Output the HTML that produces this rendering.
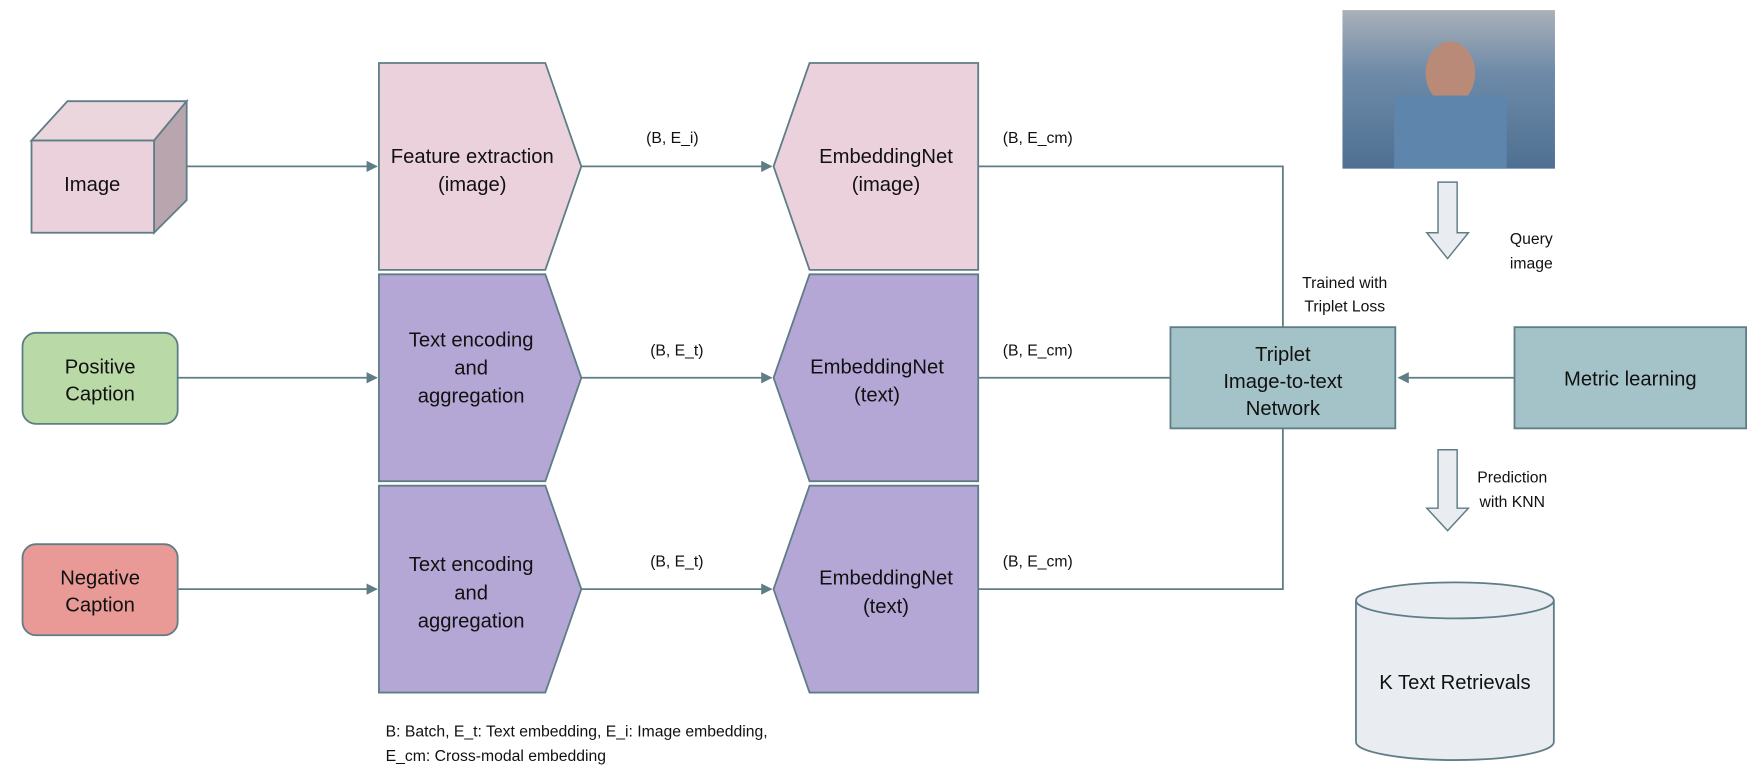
<!DOCTYPE html>
<html><head><meta charset="utf-8"><style>
html,body{margin:0;padding:0;background:#fff;width:1763px;height:766px;overflow:hidden}
svg{display:block}
text{font-family:"Liberation Sans",sans-serif;fill:#111}
</style></head><body>
<svg width="1763" height="766" viewBox="0 0 1568 681.3" xmlns="http://www.w3.org/2000/svg">
<defs>
<marker id="ah" markerWidth="10" markerHeight="10" refX="9" refY="5" orient="auto" markerUnits="userSpaceOnUse">
<path d="M0,0 L10,5 L0,10 z" fill="#5f7d86"/></marker>
<linearGradient id="ph" x1="0" y1="0" x2="0" y2="1">
<stop offset="0" stop-color="#a9b0b8"/><stop offset="0.4" stop-color="#6d8aa8"/><stop offset="1" stop-color="#4f7092"/></linearGradient>
</defs>
<g stroke="#5f7d86" stroke-width="1.6" fill="none">
<path d="M28,125 L60,90 L166,90 L137,125 z" fill="#ecd6de"/>
<path d="M137,125 L166,90 L166,178 L137,207 z" fill="#b9a5ad"/>
<rect x="28" y="125" width="109" height="82" fill="#ead1dc"/>
<rect x="20" y="296" width="138" height="81" rx="12" fill="#b9d9a7"/>
<rect x="20" y="484" width="138" height="81" rx="12" fill="#e99a97"/>
<path d="M337,56 L485,56 L517,148 L485,240 L337,240 z" fill="#ead1dc"/>
<path d="M337,244 L485,244 L517,336 L485,428 L337,428 z" fill="#b4a7d6"/>
<path d="M337,432 L485,432 L517,524 L485,616 L337,616 z" fill="#b4a7d6"/>
<path d="M720,56 L870,56 L870,240 L720,240 L688,148 z" fill="#ead1dc"/>
<path d="M720,244 L870,244 L870,428 L720,428 L688,336 z" fill="#b4a7d6"/>
<path d="M720,432 L870,432 L870,616 L720,616 L688,524 z" fill="#b4a7d6"/>
<line x1="166" y1="148" x2="335" y2="148" marker-end="url(#ah)"/>
<line x1="158" y1="336" x2="335" y2="336" marker-end="url(#ah)"/>
<line x1="158" y1="524" x2="335" y2="524" marker-end="url(#ah)"/>
<line x1="517" y1="148" x2="686" y2="148" marker-end="url(#ah)"/>
<line x1="517" y1="336" x2="686" y2="336" marker-end="url(#ah)"/>
<line x1="517" y1="524" x2="686" y2="524" marker-end="url(#ah)"/>
<polyline points="870,148 1141,148 1141,291"/>
<line x1="870" y1="336" x2="1041" y2="336"/>
<polyline points="870,524 1141,524 1141,381"/>
<line x1="1347" y1="336" x2="1244" y2="336" marker-end="url(#ah)"/>
<rect x="1041" y="291" width="200" height="90" fill="#a3c3c8"/>
<rect x="1347" y="291" width="206" height="90" fill="#a3c3c8"/>
<path d="M1279,162 L1296,162 L1296,207 L1306,207 L1287.5,230 L1269,207 L1279,207 z" fill="#e9edf1" stroke-width="1.3"/>
<path d="M1279,400 L1296,400 L1296,452 L1306,452 L1287.5,472 L1269,452 L1279,452 z" fill="#e9edf1" stroke-width="1.3"/>
<path d="M1206,534 L1206,660 A88,16 0 0 0 1382,660 L1382,534" fill="#e9edf1"/>
<ellipse cx="1294" cy="534" rx="88" ry="16" fill="#e9edf1"/>
</g>
<rect x="1194" y="9" width="189" height="141" fill="url(#ph)"/>
<ellipse cx="1290" cy="65" rx="22" ry="28" fill="#b98a78"/>
<rect x="1240" y="85" width="100" height="65" fill="#5e86ad"/>
<g font-size="18" text-anchor="middle">
<text x="82" y="170">Image</text>
<text x="89" y="332">Positive</text><text x="89" y="356">Caption</text>
<text x="89" y="520">Negative</text><text x="89" y="544">Caption</text>
<text x="420" y="145">Feature extraction</text><text x="420" y="170">(image)</text>
<text x="419" y="308">Text encoding</text><text x="419" y="333">and</text><text x="419" y="358">aggregation</text>
<text x="419" y="508">Text encoding</text><text x="419" y="533">and</text><text x="419" y="558">aggregation</text>
<text x="788" y="145">EmbeddingNet</text><text x="788" y="170">(image)</text>
<text x="780" y="332">EmbeddingNet</text><text x="780" y="357">(text)</text>
<text x="788" y="520">EmbeddingNet</text><text x="788" y="545">(text)</text>
<text x="1141" y="321">Triplet</text><text x="1141" y="345">Image-to-text</text><text x="1141" y="369">Network</text>
<text x="1450" y="343">Metric learning</text>
<text x="1294" y="613">K Text Retrievals</text>
</g>
<g font-size="14" text-anchor="middle">
<text x="598" y="127">(B, E_i)</text>
<text x="602" y="316">(B, E_t)</text>
<text x="602" y="504">(B, E_t)</text>
<text x="923" y="127">(B, E_cm)</text>
<text x="923" y="316">(B, E_cm)</text>
<text x="923" y="504">(B, E_cm)</text>
<text x="1196" y="256">Trained with</text><text x="1196" y="277">Triplet Loss</text>
<text x="1362" y="217">Query</text><text x="1362" y="239">image</text>
<text x="1345" y="429">Prediction</text><text x="1345" y="451">with KNN</text>
</g>
<g font-size="14">
<text x="343" y="655">B: Batch, E_t: Text embedding, E_i: Image embedding,</text>
<text x="343" y="677">E_cm: Cross-modal embedding</text>
</g>
</svg>
</body></html>
